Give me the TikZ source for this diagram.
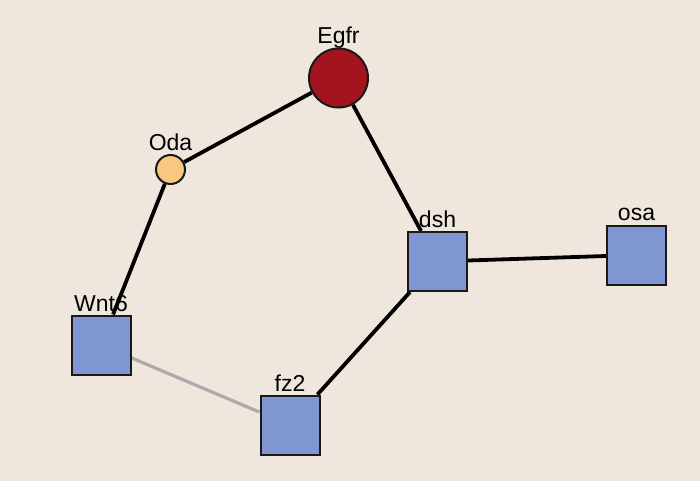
\documentclass[tikz,border=0pt]{standalone}
\usepackage{fontspec}
\setmainfont{Liberation Sans}
\usetikzlibrary{backgrounds}
\definecolor{bgcol}{HTML}{EFE6DE}
\definecolor{genebox}{HTML}{7F96D0}
\definecolor{hubred}{HTML}{A3141E}
\definecolor{orangeish}{HTML}{F8C882}
\definecolor{weakedge}{HTML}{ABABAB}
\begin{document}
\begin{tikzpicture}[x=1pt,y=-1pt,
  square/.style={draw=black!90, line width=2pt, fill=genebox, minimum size=59pt, inner sep=0pt},
  bigcirc/.style={circle, draw=black!90, line width=2pt, fill=hubred, minimum size=59pt, inner sep=0pt},
  smallcirc/.style={circle, draw=black!90, line width=2pt, fill=orangeish, minimum size=29pt, inner sep=0pt},
  lbl/.style={anchor=base, font=\fontsize{23}{26}\selectfont, inner sep=0pt},
  strong/.style={line width=3.8pt, black},
  weak/.style={line width=3.2pt, weakedge}]
\useasboundingbox (0,0) rectangle (700,481);

% gene nodes
\node[bigcirc]   (egfr) at (338.5,78) {};
\node[smallcirc] (oda)  at (170.5,169.5) {};
\node[square]    (wnt6) at (101,345) {};
\node[square]    (fz2)  at (290,425) {};
\node[square]    (dsh)  at (437.5,261.5) {};
\node[square]    (osa)  at (636.5,255) {};

% labels above the nodes
\node[lbl] (egfrL) at (338.5,43.5) {Egfr};
\node[lbl] (odaL)  at (170.5,150.5) {Oda};
\node[lbl] (wnt6L) at (101,311.5) {Wnt6};
\node[lbl] (fz2L)  at (290,391) {fz2};
\node[lbl] (dshL)  at (437.5,227) {dsh};
\node[lbl] (osaL)  at (636.5,220.5) {osa};

% canvas and interactions, beneath the nodes
\begin{scope}[on background layer]
\fill[bgcol] (0,0) rectangle (700,481);
\draw[strong] (egfr) -- (oda);
\draw[strong] (oda) -- (wnt6);
\draw[strong] (egfr) -- (dsh);
\draw[strong] (dsh) -- (osa);
\draw[strong] (dsh) -- (fz2);
\draw[weak] (wnt6) -- (fz2);
\end{scope}
\end{tikzpicture}
\end{document}
